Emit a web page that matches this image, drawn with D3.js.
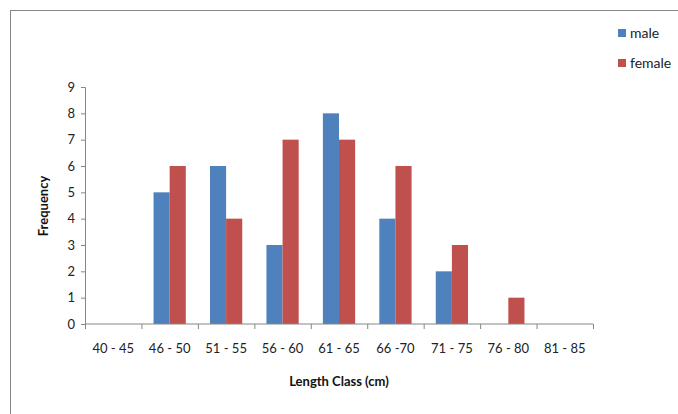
<!DOCTYPE html>
<html><head><meta charset="utf-8">
<script src="https://cdn.jsdelivr.net/npm/d3@7"></script>
<style>html,body{margin:0;padding:0;background:#fff;}svg{display:block;font-family:Lato,"Open Sans",sans-serif;}</style>
</head><body>
<svg id="c" width="678" height="414"></svg>
<script>
const categories = ["40 - 45","46 - 50","51 - 55","56 - 60","61 - 65","66 -70","71 - 75","76 - 80","81 - 85"];
const male   = [0,5,6,3,8,4,2,0,0];
const female = [0,6,4,7,7,6,3,1,0];
const seriesNames = ["male","female"];
const colors = ["#4f81bd","#c0504d"];
const yTicks = [0,1,2,3,4,5,6,7,8,9];

const svg = d3.select("#c");
svg.append("rect").attr("x",10.5).attr("y",10.5).attr("width",700).attr("height",420)
  .attr("fill","#fff").attr("stroke","#868686");

const m = {left:85, right:593, top:87, bottom:324};
const x = d3.scaleBand().domain(categories).range([m.left,m.right]).paddingInner(0).paddingOuter(0);
const y = d3.scaleLinear().domain([0,9]).range([m.bottom,m.top]);
const groupW = x.bandwidth()/1.75;
const xs = d3.scaleBand().domain(seriesNames).range([(x.bandwidth()-groupW)/2,(x.bandwidth()+groupW)/2]);

const data = categories.map((c,i)=>({c, vals:[male[i],female[i]]}));
const g = svg.append("g");
g.selectAll("g.cat").data(data).join("g").attr("transform",d=>`translate(${x(d.c)},0)`)
  .selectAll("rect").data(d=>d.vals.map((v,j)=>({v,j}))).join("rect")
  .attr("x",d=>xs(seriesNames[d.j])).attr("width",xs.bandwidth())
  .attr("y",d=>y(d.v)).attr("height",d=>y(0)-y(d.v))
  .attr("fill",d=>colors[d.j]);

// y axis
const ya = svg.append("g").attr("transform",`translate(${m.left},0)`)
  .call(d3.axisLeft(y).tickValues(yTicks).tickSize(4).tickPadding(6));
ya.select(".domain").attr("stroke","#868686");
ya.selectAll(".tick line").attr("stroke","#868686");
ya.selectAll("text").attr("font-size",13).attr("fill","#222").attr("font-family","Lato,sans-serif");

// x axis
const xa = svg.append("g").attr("transform",`translate(0,${m.bottom})`)
  .call(d3.axisBottom(x).tickSize(0).tickPadding(20));
xa.select(".domain").attr("stroke","#868686").attr("d",`M${m.left},0H${m.right}`);
xa.selectAll("text").attr("font-size",13).attr("fill","#222").attr("font-family","Lato,sans-serif");
const edges = categories.map(c=>x(c)).concat([m.right]);
svg.append("g").selectAll("line").data(edges).join("line")
  .attr("x1",d=>d+0.5).attr("x2",d=>d+0.5).attr("y1",m.bottom).attr("y2",m.bottom+5)
  .attr("stroke","#868686");

// titles
svg.append("text").attr("x",339).attr("y",386).attr("text-anchor","middle")
  .attr("font-size",13).attr("font-weight","bold").attr("fill","#111").text("Length Class (cm)");
svg.append("text").attr("transform","translate(48,206) rotate(-90)").attr("text-anchor","middle")
  .attr("font-size",13).attr("font-weight","bold").attr("fill","#111").text("Frequency");

// legend
const lg = svg.append("g").selectAll("g").data(seriesNames).join("g")
  .attr("transform",(d,i)=>`translate(618,${33+i*30})`);
lg.append("rect").attr("x",0).attr("y",-4).attr("width",8).attr("height",8).attr("fill",(d,i)=>colors[i]);
lg.append("text").attr("x",12).attr("y",5).attr("font-size",14).attr("fill","#222").text(d=>d);
</script>
</body></html>
